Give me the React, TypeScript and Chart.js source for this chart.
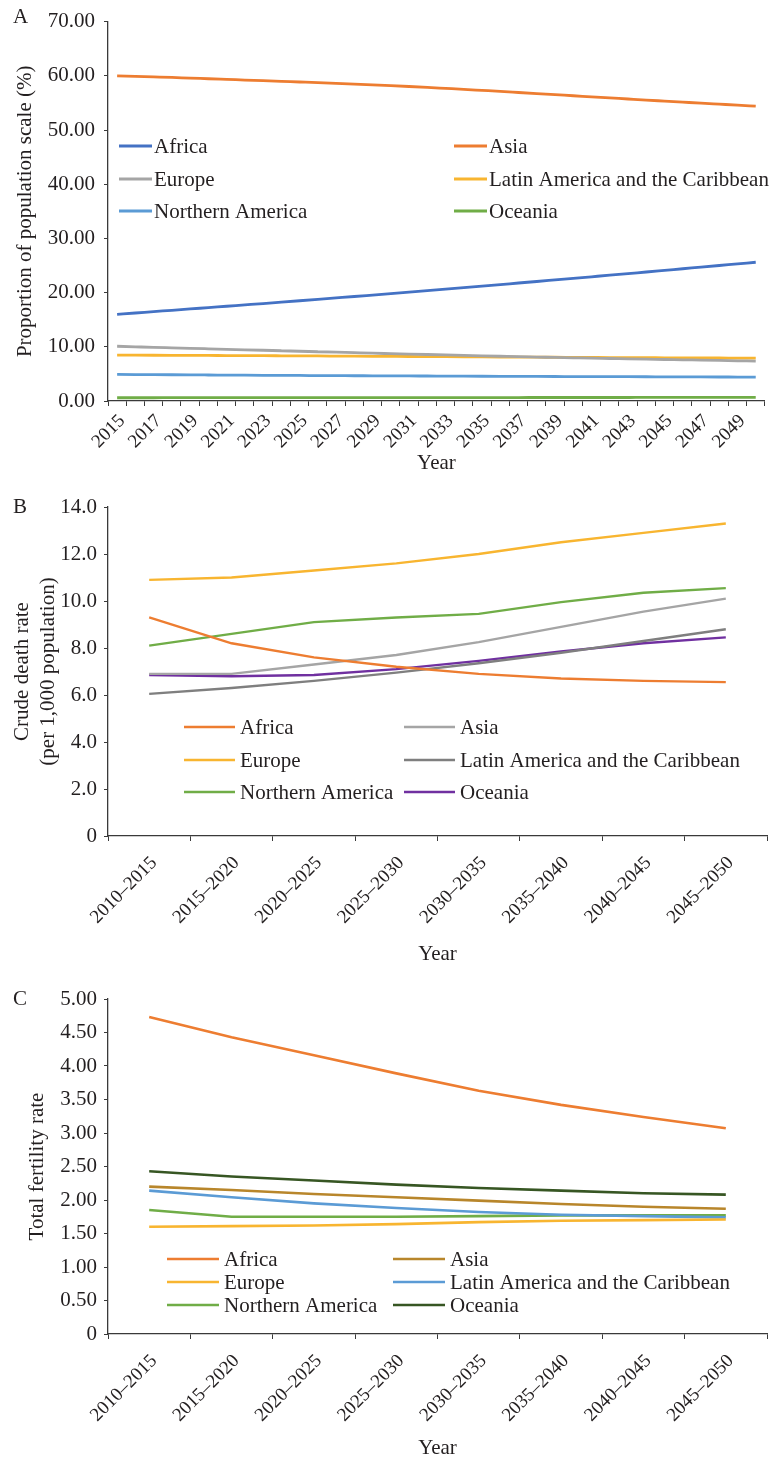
import React, { useEffect, useRef } from 'react';
import { Chart, registerables } from 'chart.js';

Chart.register(...registerables);

const FONT = "'Liberation Serif', 'Times New Roman', serif";
const TEXT = '#231f20';
const AXIS = '#3a3a3a';

// ---------- Panel A: proportion of population scale (%) ----------
const yearsA = [
  '2015', '2016', '2017', '2018', '2019', '2020', '2021', '2022', '2023', '2024',
  '2025', '2026', '2027', '2028', '2029', '2030', '2031', '2032', '2033', '2034',
  '2035', '2036', '2037', '2038', '2039', '2040', '2041', '2042', '2043', '2044',
  '2045', '2046', '2047', '2048', '2049', '2050',
];
const aAfrica = [
  16.0, 16.24, 16.49, 16.73, 16.98, 17.23, 17.48, 17.73, 17.98, 18.24,
  18.5, 18.76, 19.02, 19.28, 19.55, 19.82, 20.09, 20.36, 20.64, 20.92,
  21.2, 21.48, 21.77, 22.05, 22.34, 22.63, 22.92, 23.21, 23.51, 23.8,
  24.1, 24.4, 24.7, 25.0, 25.3, 25.6,
];
const aAsia = [
  60.0, 59.9, 59.8, 59.7, 59.57, 59.46, 59.34, 59.22, 59.1, 58.98,
  58.86, 58.74, 58.61, 58.48, 58.34, 58.19, 58.03, 57.86, 57.68, 57.5,
  57.31, 57.12, 56.92, 56.72, 56.52, 56.32, 56.12, 55.92, 55.72, 55.52,
  55.33, 55.14, 54.95, 54.77, 54.59, 54.4,
];
const aEurope = [
  10.1, 10.0, 9.9, 9.81, 9.72, 9.63, 9.54, 9.45, 9.36, 9.27,
  9.18, 9.09, 9.0, 8.91, 8.82, 8.74, 8.66, 8.58, 8.5, 8.42,
  8.34, 8.26, 8.18, 8.11, 8.04, 7.97, 7.9, 7.84, 7.78, 7.72,
  7.66, 7.6, 7.54, 7.48, 7.42, 7.36,
];
const aLatin = [
  8.46, 8.45, 8.44, 8.43, 8.42, 8.4, 8.39, 8.37, 8.36, 8.34,
  8.32, 8.31, 8.29, 8.27, 8.25, 8.23, 8.21, 8.2, 8.18, 8.16,
  8.14, 8.12, 8.1, 8.08, 8.07, 8.05, 8.03, 8.02, 8.0, 7.99,
  7.97, 7.96, 7.94, 7.93, 7.91, 7.9,
];
const aNorthAm = [
  4.9, 4.88, 4.86, 4.84, 4.82, 4.8, 4.78, 4.76, 4.74, 4.72,
  4.71, 4.69, 4.68, 4.66, 4.65, 4.63, 4.62, 4.61, 4.59, 4.58,
  4.57, 4.56, 4.55, 4.53, 4.52, 4.51, 4.5, 4.49, 4.48, 4.47,
  4.46, 4.45, 4.44, 4.43, 4.42, 4.41,
];
const aOceania = [
  0.6, 0.6, 0.6, 0.61, 0.61, 0.61, 0.61, 0.62, 0.62, 0.62,
  0.62, 0.62, 0.63, 0.63, 0.63, 0.63, 0.63, 0.64, 0.64, 0.64,
  0.64, 0.64, 0.64, 0.65, 0.65, 0.65, 0.65, 0.65, 0.65, 0.66,
  0.66, 0.66, 0.66, 0.66, 0.66, 0.67,
];

// ---------- Panels B and C ----------
const periods = [
  '2010–2015', '2015–2020', '2020–2025', '2025–2030',
  '2030–2035', '2035–2040', '2040–2045', '2045–2050',
];
const bAfrica = [9.3, 8.2, 7.6, 7.2, 6.9, 6.7, 6.6, 6.55];
const bAsia = [6.9, 6.9, 7.3, 7.7, 8.25, 8.9, 9.55, 10.1];
const bEurope = [10.9, 11.0, 11.3, 11.6, 12.0, 12.5, 12.9, 13.3];
const bLatin = [6.05, 6.3, 6.6, 6.95, 7.35, 7.8, 8.3, 8.8];
const bNorthAm = [8.1, 8.6, 9.1, 9.3, 9.45, 9.95, 10.35, 10.55];
const bOceania = [6.85, 6.8, 6.85, 7.1, 7.45, 7.85, 8.2, 8.45];

const cAfrica = [4.73, 4.43, 4.16, 3.89, 3.63, 3.42, 3.24, 3.07];
const cAsia = [2.2, 2.15, 2.09, 2.04, 1.99, 1.94, 1.9, 1.87];
const cEurope = [1.6, 1.61, 1.62, 1.64, 1.67, 1.69, 1.7, 1.71];
const cLatin = [2.14, 2.04, 1.95, 1.88, 1.82, 1.78, 1.76, 1.74];
const cNorthAm = [1.85, 1.75, 1.75, 1.75, 1.76, 1.77, 1.77, 1.77];
const cOceania = [2.43, 2.35, 2.29, 2.23, 2.18, 2.14, 2.1, 2.08];

const regionNames = [
  'Africa', 'Asia', 'Europe', 'Latin America and the Caribbean', 'Northern America', 'Oceania',
];

const colorsA = ['#4472c4', '#ed7d31', '#a5a5a5', '#f8b530', '#5b9bd5', '#70ad47'];
const colorsB = ['#ed7d31', '#a5a5a5', '#f8b530', '#7f7f7f', '#70ad47', '#7030a0'];
const colorsC = ['#ed7d31', '#b8862b', '#f8b530', '#5b9bd5', '#70ad47', '#375623'];

// ---------- plugins ----------
const gridLegendPlugin = {
  id: 'gridLegend',
  afterDraw(chart: any, _args: any, opts: any) {
    if (!opts || !opts.cols) return;
    const ctx = chart.ctx;
    ctx.save();
    ctx.font = `${opts.size}px ${FONT}`;
    ctx.textBaseline = 'middle';
    ctx.textAlign = 'left';
    chart.data.datasets.forEach((ds: any, i: number) => {
      const x = opts.cols[i % 2];
      const y = opts.rows[Math.floor(i / 2)];
      ctx.strokeStyle = ds.borderColor;
      ctx.lineWidth = opts.lineWidth;
      ctx.beginPath();
      ctx.moveTo(x, y);
      ctx.lineTo(x + opts.lineLen, y);
      ctx.stroke();
      ctx.fillStyle = TEXT;
      ctx.fillText(ds.label, x + opts.lineLen + opts.gap, y + 1);
    });
    ctx.restore();
  },
};

const panelLetterPlugin = {
  id: 'panelLetter',
  afterDraw(chart: any, _args: any, opts: any) {
    if (!opts || !opts.text) return;
    const ctx = chart.ctx;
    ctx.save();
    ctx.font = `${opts.size}px ${FONT}`;
    ctx.fillStyle = TEXT;
    ctx.textAlign = 'left';
    ctx.textBaseline = 'middle';
    ctx.fillText(opts.text, opts.x, opts.y);
    ctx.restore();
  },
};

type Spec = {
  labels: string[];
  series: number[][];
  colors: string[];
  lineWidth: number;
  smooth: boolean;
  yMax: number;
  yStep: number;
  yFmt: (v: number) => string;
  yTitle: string | string[];
  yTitlePad: number;
  yTickSize: number;
  yTickPad: number;
  everyOther: boolean;
  xTickPad: number;
  xHeight: number;
  xTitlePad: number;
  xTitleLH: number;
  padTop: number;
  padRight: number;
  letter: string;
  letterY: number;
  legend: any;
};

function makeConfig(s: Spec): any {
  return {
    type: 'line',
    data: {
      labels: s.labels,
      datasets: s.series.map((d, i) => ({
        label: regionNames[i],
        data: d,
        borderColor: s.colors[i],
        backgroundColor: s.colors[i],
        borderWidth: s.lineWidth,
        pointRadius: 0,
        tension: 0,
        cubicInterpolationMode: s.smooth ? 'monotone' : 'default',
        fill: false,
      })),
    },
    options: {
      responsive: false,
      animation: false,
      devicePixelRatio: 1,
      layout: { padding: { top: s.padTop, right: s.padRight, left: 0, bottom: 0 } },
      plugins: {
        legend: { display: false },
        tooltip: { enabled: false },
        gridLegend: s.legend,
        panelLetter: { text: s.letter, x: 13, y: s.letterY, size: 21 },
      },
      scales: {
        x: {
          type: 'category',
          offset: true,
          grid: {
            offset: true,
            drawOnChartArea: false,
            drawTicks: true,
            tickLength: 5,
            color: AXIS,
            lineWidth: 1,
          },
          border: { display: true, color: AXIS, width: 1.3 },
          ticks: {
            autoSkip: false,
            maxRotation: 45,
            minRotation: 45,
            padding: s.xTickPad,
            labelOffset: 5,
            color: TEXT,
            font: { family: FONT, size: 19 },
            callback: function (this: any, v: any, i: number) {
              if (s.everyOther && i % 2 !== 0) return '';
              return this.getLabelForValue(v);
            },
          },
          title: {
            display: true,
            text: 'Year',
            color: TEXT,
            font: { family: FONT, size: 21, lineHeight: s.xTitleLH },
            padding: { top: 0, bottom: s.xTitlePad },
          },
          afterFit: (sc: any) => {
            sc.height = s.xHeight;
          },
        },
        y: {
          min: 0,
          max: s.yMax,
          grid: {
            drawOnChartArea: false,
            drawTicks: true,
            tickLength: 4,
            color: AXIS,
            lineWidth: 1,
          },
          border: { display: true, color: AXIS, width: 1.3 },
          ticks: {
            stepSize: s.yStep,
            padding: s.yTickPad,
            color: TEXT,
            font: { family: FONT, size: s.yTickSize },
            callback: (v: any) => s.yFmt(Number(v)),
          },
          title: {
            display: true,
            text: s.yTitle,
            color: TEXT,
            font: { family: FONT, size: 21, lineHeight: 1.24 },
            padding: { top: s.yTitlePad, bottom: 0 },
          },
          afterFit: (sc: any) => {
            sc.width = 108;
          },
        },
      },
    },
    plugins: [gridLegendPlugin, panelLetterPlugin],
  };
}

const specA: Spec = {
  labels: yearsA,
  series: [aAfrica, aAsia, aEurope, aLatin, aNorthAm, aOceania],
  colors: colorsA,
  lineWidth: 2.8,
  smooth: true,
  yMax: 70,
  yStep: 10,
  yFmt: (v) => v.toFixed(2),
  yTitle: 'Proportion of population scale (%)',
  yTitlePad: 12,
  yTickSize: 21,
  yTickPad: 9,
  everyOther: true,
  xTickPad: 4,
  xHeight: 84,
  xTitlePad: 8,
  xTitleLH: 1.24,
  padTop: 17,
  padRight: 10,
  letter: 'A',
  letterY: 17,
  legend: { cols: [119, 454], rows: [146, 179, 211], lineLen: 33, gap: 2, lineWidth: 2.8, size: 21 },
};

const specB: Spec = {
  labels: periods,
  series: [bAfrica, bAsia, bEurope, bLatin, bNorthAm, bOceania],
  colors: colorsB,
  lineWidth: 2.4,
  smooth: false,
  yMax: 14,
  yStep: 2,
  yFmt: (v) => (v === 0 ? '0' : v.toFixed(1)),
  yTitle: ['Crude death rate', '(per 1,000 population)'],
  yTitlePad: 9,
  yTickSize: 21,
  yTickPad: 7,
  everyOther: false,
  xTickPad: 11,
  xHeight: 139,
  xTitlePad: 7,
  xTitleLH: 1.24,
  padTop: 22,
  padRight: 9,
  letter: 'B',
  letterY: 22,
  legend: { cols: [184, 404], rows: [242, 275, 307], lineLen: 51, gap: 5, lineWidth: 2.6, size: 21 },
};

const specC: Spec = {
  labels: periods,
  series: [cAfrica, cAsia, cEurope, cLatin, cNorthAm, cOceania],
  colors: colorsC,
  lineWidth: 2.6,
  smooth: false,
  yMax: 5,
  yStep: 0.5,
  yFmt: (v) => (v === 0 ? '0' : v.toFixed(2)),
  yTitle: 'Total fertility rate',
  yTitlePad: 24,
  yTickSize: 21,
  yTickPad: 7,
  everyOther: false,
  xTickPad: 11,
  xHeight: 126,
  xTitlePad: 0,
  xTitleLH: 1.05,
  padTop: 24,
  padRight: 9,
  letter: 'C',
  letterY: 24,
  legend: { cols: [167, 393], rows: [284, 307, 330], lineLen: 52, gap: 5, lineWidth: 2.6, size: 21 },
};

function Panel({ spec, width, height }: { spec: Spec; width: number; height: number }) {
  const ref = useRef<HTMLCanvasElement | null>(null);
  useEffect(() => {
    if (!ref.current) return;
    const chart = new Chart(ref.current, makeConfig(spec));
    return () => chart.destroy();
  }, [spec]);
  return (
    <canvas
      ref={ref}
      width={width}
      height={height}
      style={{ display: 'block', width: `${width}px`, height: `${height}px` }}
    />
  );
}

export default function App() {
  useEffect(() => {
    document.body.style.margin = '0';
    document.body.style.background = '#ffffff';
  }, []);
  return (
    <div style={{ width: 776, background: '#fff' }}>
      <Panel spec={specA} width={776} height={485} />
      <Panel spec={specB} width={776} height={490} />
      <Panel spec={specC} width={776} height={485} />
    </div>
  );
}
